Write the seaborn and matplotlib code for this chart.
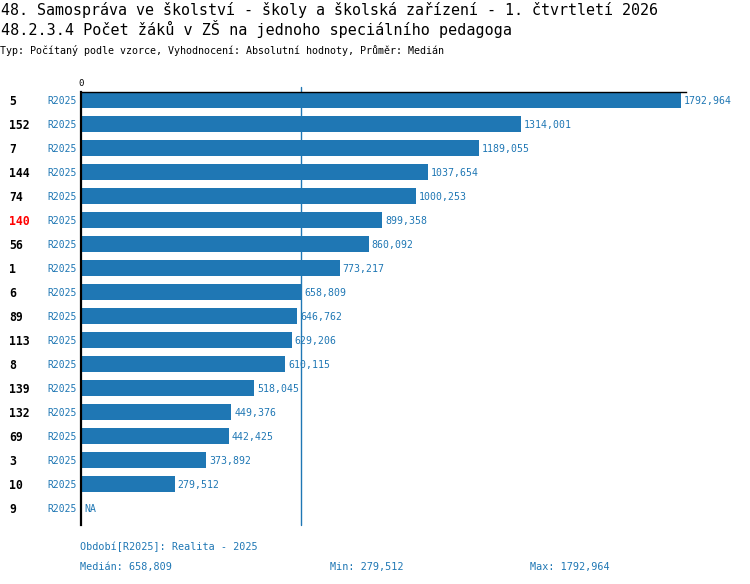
import numpy as np
import pandas as pd
import matplotlib
matplotlib.use("Agg")
import matplotlib.pyplot as plt
import matplotlib.transforms as mtransforms
import seaborn as sns

# ---- data ----
regions = ["5", "152", "7", "144", "74", "140", "56", "1", "6", "89",
           "113", "8", "139", "132", "69", "3", "10", "9"]
values = [1792.964, 1314.001, 1189.055, 1037.654, 1000.253, 899.358, 860.092,
          773.217, 658.809, 646.762, 629.206, 610.115, 518.045, 449.376,
          442.425, 373.892, 279.512, np.nan]
period = "R2025"
highlight = "140"
title1 = "48. Samospráva ve školství - školy a školská zařízení - 1. čtvrtletí 2026"
title2 = "48.2.3.4 Počet žáků v ZŠ na jednoho speciálního pedagoga"
subtitle = "Typ: Počítaný podle vzorce, Vyhodnocení: Absolutní hodnoty, Průměr: Medián"
footer_period = "Období[R2025]: Realita - 2025"

BLUE = "#1f77b4"

sns.set_style("white")
plt.rcParams["font.family"] = ["DejaVu Sans Mono", "DejaVu Sans"]
plt.rcParams["text.color"] = "black"
plt.rcParams["xtick.color"] = "black"

df = pd.DataFrame({"region": regions, "value": values})

W, H = 750, 584
fig = plt.figure(figsize=(W / 100, H / 100), dpi=100)
ax = fig.add_axes([81 / W, 1 - 525 / H, 605 / W, 433 / H])

sns.barplot(data=df, x="value", y="region", order=regions, orient="h",
            color=BLUE, saturation=1, width=0.667, ax=ax, errorbar=None,
            linewidth=0)

vmax = np.nanmax(values)
vmin = np.nanmin(values)
med = np.nanmedian(values)

def fmt(v):
    return f"{v:.3f}".replace(".", ",")

ax.set_xlim(0, vmax * 605 / 600)
ax.set_ylim(len(regions) - 1 + 0.69, -0.333)

# spines
for s in ["right", "bottom"]:
    ax.spines[s].set_visible(False)
ax.spines["left"].set_color("black")
ax.spines["left"].set_linewidth(1.6)
ax.spines["top"].set_color("black")
ax.spines["top"].set_linewidth(1.0)

ax.xaxis.tick_top()
ax.set_xticks([0])
ax.set_xticklabels(["0"], fontsize=6.5, color="black")
ax.tick_params(axis="x", length=0, pad=3)
ax.set_yticks([])
ax.set_xlabel("")
ax.set_ylabel("")

# median line
ax.axvline(med, color=BLUE, lw=1, ymin=0, ymax=1.012, clip_on=False, zorder=1)

# labels
trans = mtransforms.blended_transform_factory(fig.transFigure, ax.transData)
for i, (r, v) in enumerate(zip(regions, values)):
    ax.text(9 / W, i, r, transform=trans, ha="left", va="center_baseline",
            fontsize=8.3, fontweight="bold",
            color="red" if r == highlight else "black")
    ax.text(77 / W, i, period, transform=trans, ha="right", va="center_baseline",
            fontsize=7.0, color=BLUE)
    if np.isnan(v):
        ax.annotate("NA", (0, i), xytext=(3, 0), textcoords="offset pixels",
                    ha="left", va="center_baseline", fontsize=7.1, color=BLUE,
                    zorder=3)
    else:
        ax.annotate(fmt(v), (v, i), xytext=(3, 0), textcoords="offset pixels",
                    ha="left", va="center_baseline", fontsize=7.1, color=BLUE,
                    zorder=3)

# titles
fig.text(1 / W, 1 - 14.5 / H, title1, fontsize=10.8, va="baseline", ha="left",
         color="black")
fig.text(1 / W, 1 - 35.5 / H, title2, fontsize=10.9, va="baseline", ha="left",
         color="black")
fig.text(0 / W, 1 - 54.5 / H, subtitle, fontsize=7.2, va="baseline", ha="left",
         color="black")

# footer
fig.text(80 / W, 1 - 550 / H, footer_period, fontsize=7.3, color=BLUE,
         va="baseline", ha="left")
fig.text(80 / W, 1 - 570 / H, f"Medián: {fmt(med)}", fontsize=7.3, color=BLUE,
         va="baseline", ha="left")
fig.text(330 / W, 1 - 570 / H, f"Min: {fmt(vmin)}", fontsize=7.3, color=BLUE,
         va="baseline", ha="left")
fig.text(530 / W, 1 - 570 / H, f"Max: {fmt(vmax)}", fontsize=7.3, color=BLUE,
         va="baseline", ha="left")

fig.savefig("out.png", dpi=100)
